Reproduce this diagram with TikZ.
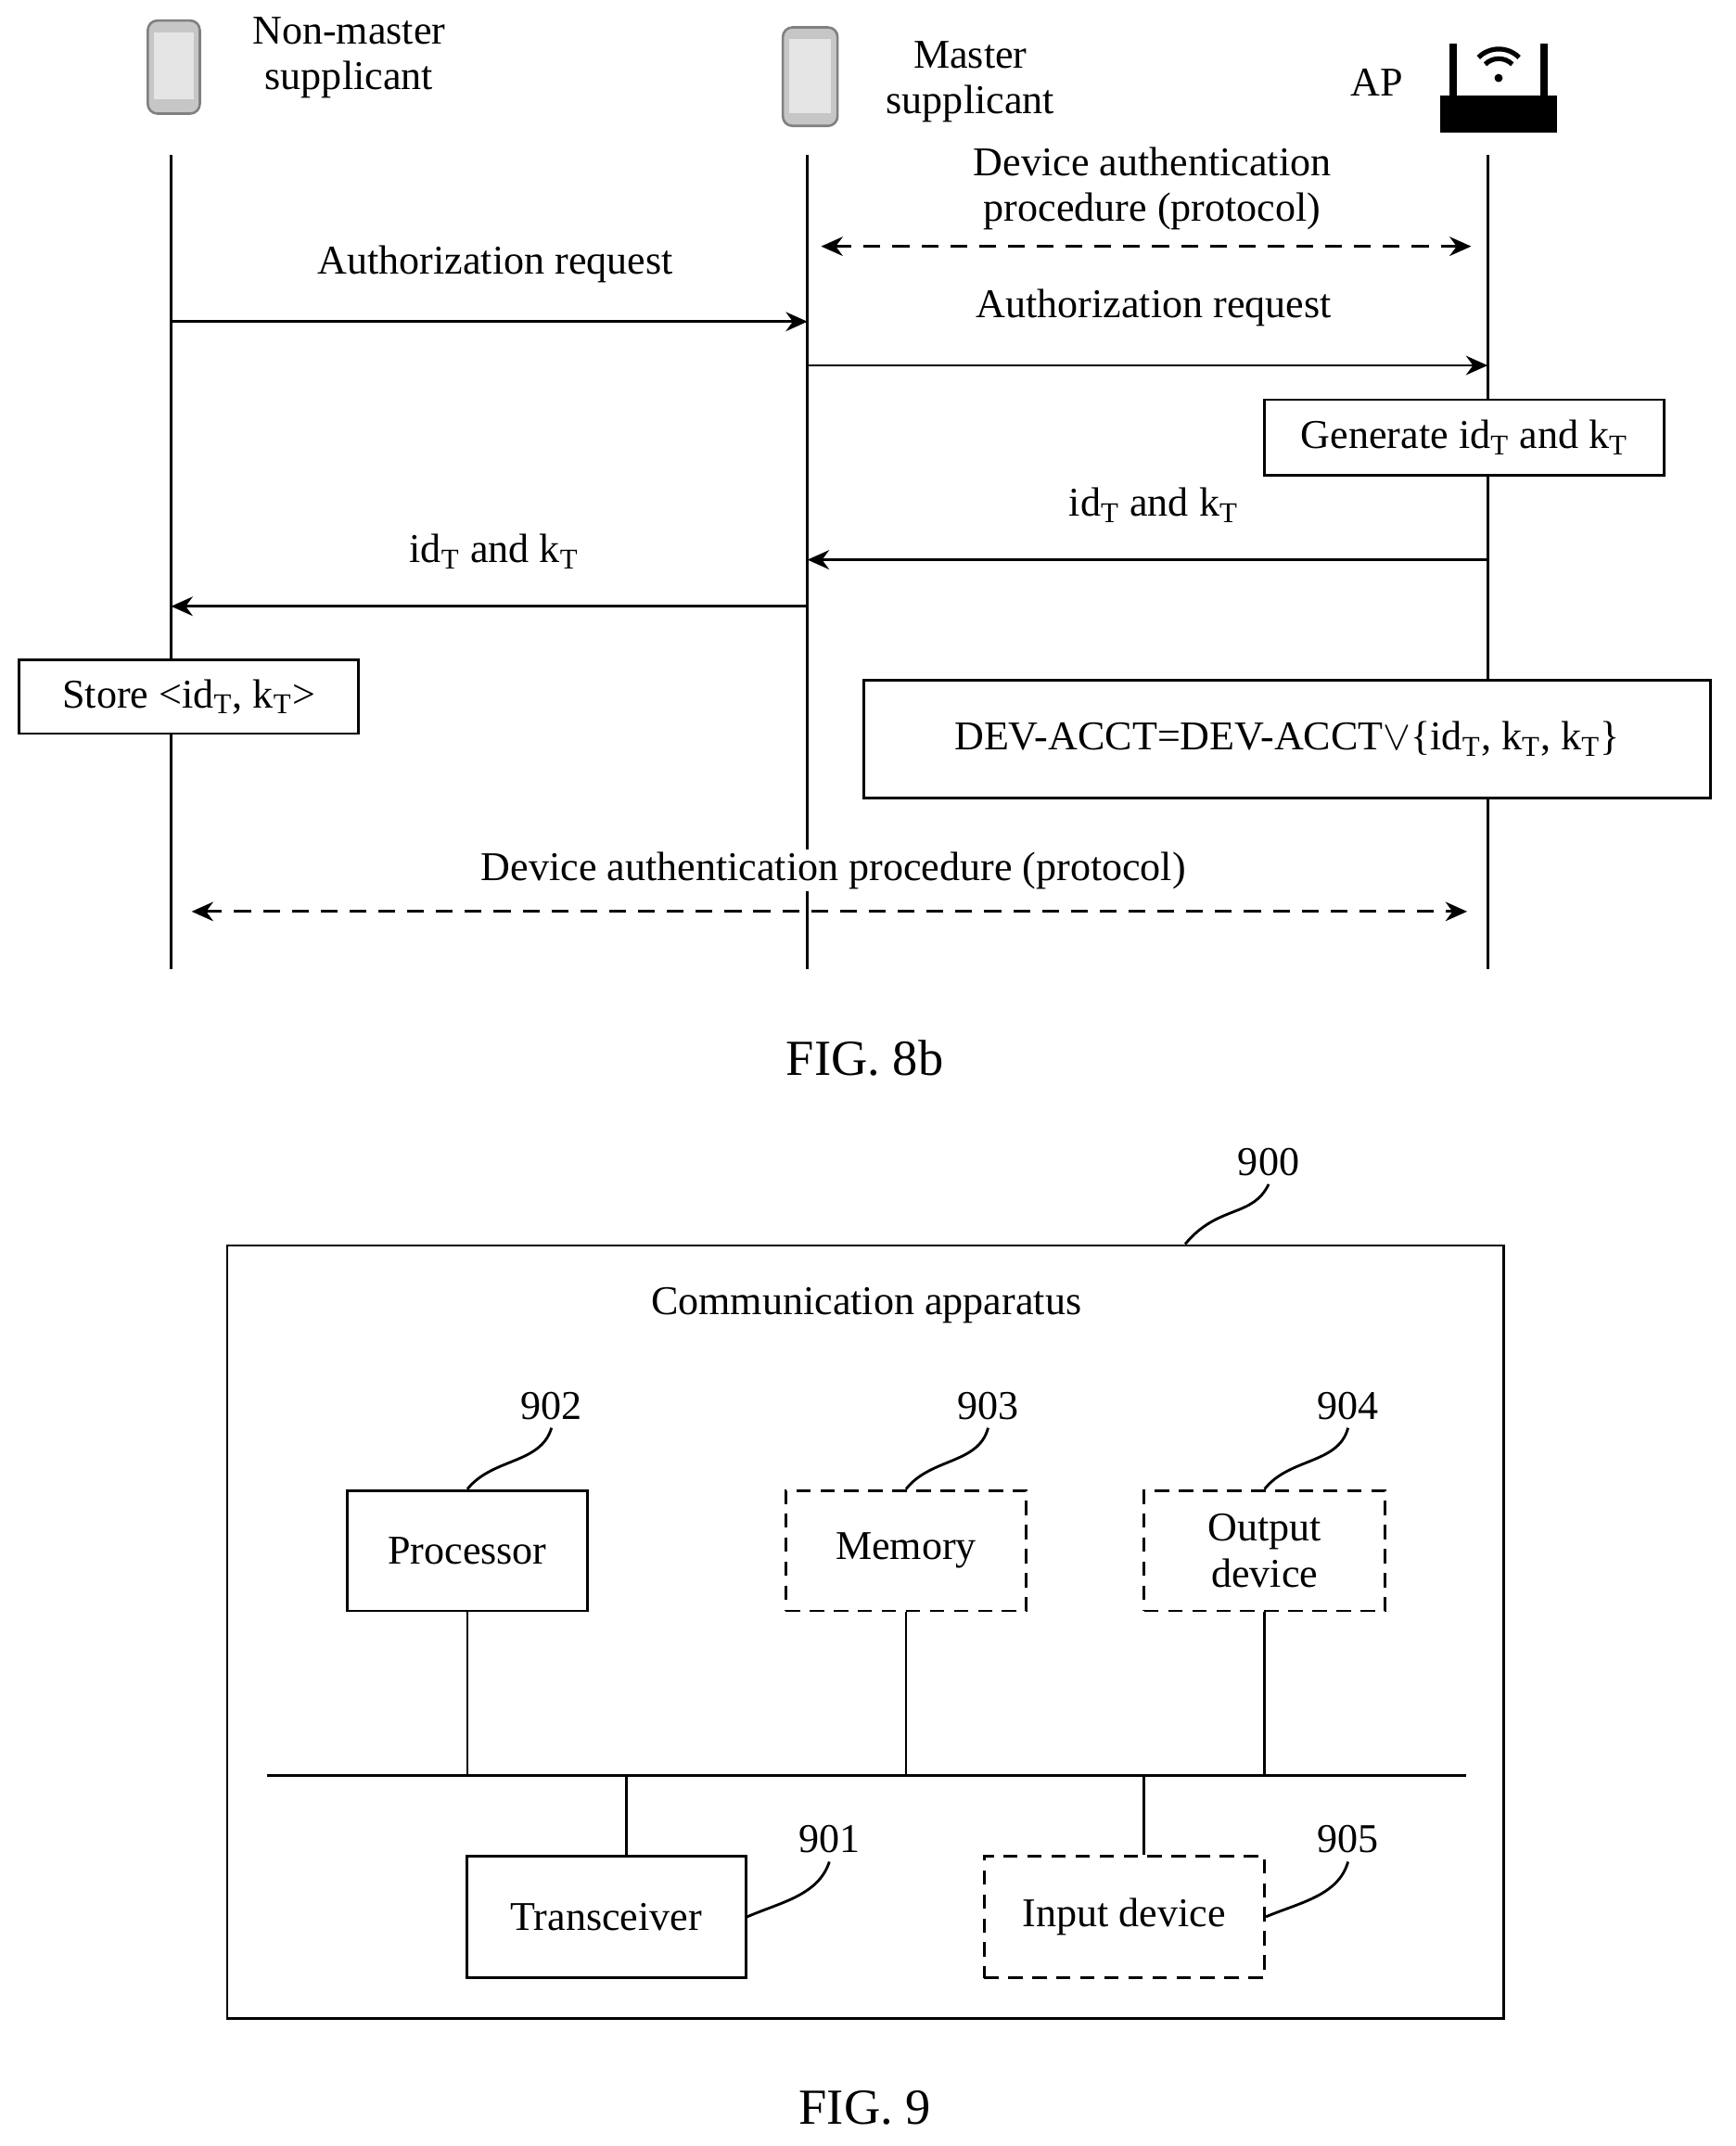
\documentclass[tikz,border=0pt]{standalone}
\usepackage{fontspec}
\setmainfont{Liberation Serif}
\usetikzlibrary{arrows.meta}
\tikzset{
  txt/.style={font=\fontsize{17}{19}\selectfont, align=center},
  fig/.style={font=\fontsize{21}{24}\selectfont},
  box/.style={draw, line width=1.1pt, font=\fontsize{17}{19}\selectfont, align=center, inner sep=0pt},
  dbox/.style={box, dashed, dash pattern=on 6pt off 4pt},
  msg/.style={line width=1.1pt, -{Stealth[length=9pt,width=8pt]}},
  proto/.style={line width=1.1pt, dash pattern=on 7pt off 5pt, {Stealth[length=9pt,width=8pt]}-{Stealth[length=9pt,width=8pt]}},
  lead/.style={line width=1.1pt},
  phone/.style={draw=gray, fill=gray!45, rounded corners=4pt, line width=1pt}
}
\newcommand{\sub}{\textsubscript{T}}
\begin{document}
\begin{tikzpicture}[x=0.02cm,y=-0.02cm]
\useasboundingbox (0,0) rectangle (1268,1568);
% icons
\draw[phone] (108,15) rectangle (146,83);
\draw[gray!20, fill=gray!20] (113,24) rectangle (141,72);
\draw[phone] (572,20) rectangle (612,92);
\draw[gray!20, fill=gray!20] (577,29) rectangle (607,82);
\fill (1052,70) rectangle (1138,97);
\draw[line width=3pt] (1062,70) -- (1062,32) (1128,70) -- (1128,32);
\draw[line width=2pt] (1105,47) arc (-45:-135:14) (1110,42) arc (-45:-135:21);
\fill (1095,57) circle (3);
% headers
\node[txt] (nm) at (255,42) {Non-master\\supplicant};
\node[txt] (ms) at (709,60) {Master\\supplicant};
\node[txt] (ap) at (1006,60) {AP};
% lifelines
\foreach \n/\x in {L1/125, L2/590, L3/1087}{
  \coordinate (\n top) at (\x,113);
  \coordinate (\n bot) at (\x,708);
  \draw[line width=1.1pt] (\n top) -- (\n bot);
}
% messages
\coordinate (p1a) at (600,180); \coordinate (p1b) at (1075,180);
\draw[proto] (p1a) -- (p1b);
\node[txt] (p1) at (842,138) {Device authentication\\procedure (protocol)};
\coordinate (r1a) at (125,235); \coordinate (r1b) at (590,235);
\draw[msg] (r1a) -- (r1b);
\node[txt] (r1) at (362,193) {Authorization request};
\coordinate (r2a) at (590,267); \coordinate (r2b) at (1087,267);
\draw[msg] (r2a) -- (r2b);
\node[txt] (r2) at (843,225) {Authorization request};
\node[box, minimum width=292*0.02cm, minimum height=55*0.02cm, fill=white] (gen) at (1070,319.5) {Generate id\sub{} and k\sub};
\coordinate (k1a) at (1087,409); \coordinate (k1b) at (590,409);
\draw[msg] (k1a) -- (k1b);
\node[txt] (k1) at (843,369) {id\sub{} and k\sub};
\coordinate (k2a) at (590,443); \coordinate (k2b) at (125,443);
\draw[msg] (k2a) -- (k2b);
\node[txt] (k2) at (361,403) {id\sub{} and k\sub};
\node[box, minimum width=248*0.02cm, minimum height=54*0.02cm, fill=white] (store) at (138,509) {Store <id\sub, k\sub>};
\node[box, minimum width=619*0.02cm, minimum height=86*0.02cm, fill=white] (acct) at (940.5,540) {DEV-ACCT=DEV-ACCT$\vee$\{id\sub, k\sub, k\sub\}};
\coordinate (p2a) at (140,666); \coordinate (p2b) at (1072,666);
\draw[proto] (p2a) -- (p2b);
\node[txt, fill=white, inner sep=1pt] (p2) at (609,636) {Device authentication procedure (protocol)};
\node[fig] (f8) at (632,773) {FIG. 8b};
% FIG. 9
\draw[line width=1.1pt] (166,910) rectangle (1099,1475);
\node[txt] (n900) at (927,849) {900};
\coordinate (c900) at (866,909);
\draw[lead] (c900) .. controls (890,880) and (915,890) .. (n900.south);
\node[txt] (ca) at (633,954) {Communication apparatus};
\node[box, minimum width=175*0.02cm, minimum height=88*0.02cm] (proc) at (341.5,1133) {Processor};
\node[dbox, minimum width=176*0.02cm, minimum height=88*0.02cm] (mem) at (662,1133) {Memory};
\node[dbox, minimum width=176*0.02cm, minimum height=88*0.02cm] (out) at (924,1133) {Output\\device};
\node[box, minimum width=204*0.02cm, minimum height=89*0.02cm] (trx) at (443,1400.5) {Transceiver};
\node[dbox, minimum width=205*0.02cm, minimum height=89*0.02cm] (inp) at (821.5,1400.5) {Input device};
\node[txt] (n902) at (403,1027) {902};
\node[txt] (n903) at (722,1027) {903};
\node[txt] (n904) at (985,1027) {904};
\node[txt] (n901) at (606,1344) {901};
\node[txt] (n905) at (985,1344) {905};
\draw[lead] (proc.north) .. controls (360,1065) and (395,1070) .. (n902.south);
\draw[lead] (mem.north) .. controls (680,1065) and (715,1070) .. (n903.south);
\draw[lead] (out.north) .. controls (942,1065) and (978,1070) .. (n904.south);
\draw[lead] (trx.east) .. controls (570,1390) and (598,1385) .. (n901.south);
\draw[lead] (inp.east) .. controls (950,1390) and (978,1385) .. (n905.south);
% bus
\coordinate (busL) at (195,1297); \coordinate (busR) at (1071,1297);
\draw[line width=1.1pt] (busL) -- (busR);
\foreach \n in {proc, mem, out}{
  \draw[line width=1.1pt] (\n.south) -- (\n.south |- busL);
}
\draw[line width=1.1pt] (trx.north -| 458,0) -- (458,1297);
\draw[line width=1.1pt] (inp.north -| 836,0) -- (836,1297);
\node[fig] (f9) at (632,1540) {FIG. 9};
\end{tikzpicture}
\end{document}
